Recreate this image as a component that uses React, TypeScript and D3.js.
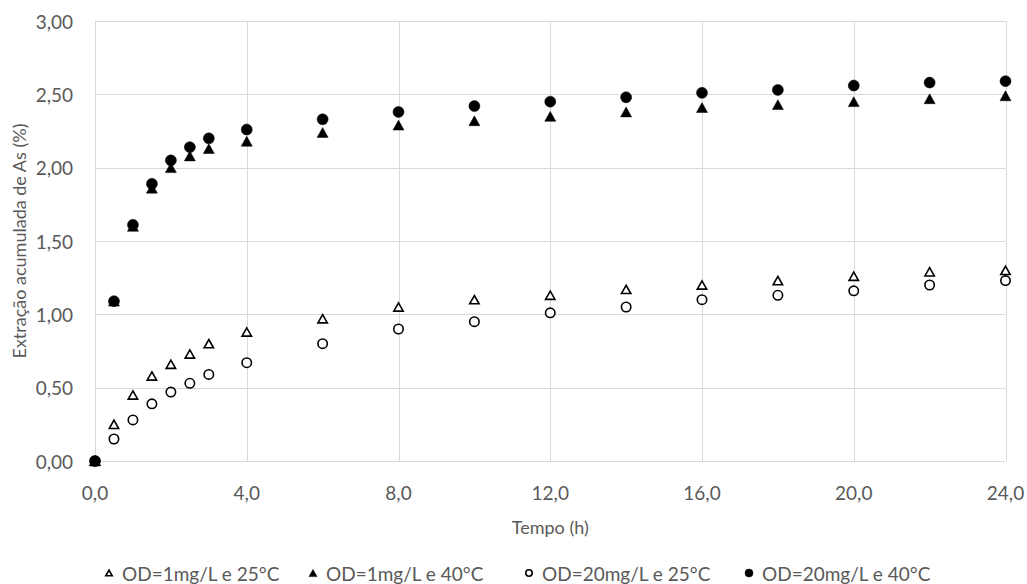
import React from "react";
import * as d3 from "d3";

const times = [0, 0.5, 1, 1.5, 2, 2.5, 3, 4, 6, 8, 10, 12, 14, 16, 18, 20, 22, 24];
const od1_25 = [0, 0.25, 0.45, 0.58, 0.66, 0.73, 0.8, 0.88, 0.97, 1.05, 1.1, 1.13, 1.17, 1.2, 1.23, 1.26, 1.29, 1.3];
const od1_40 = [0, 1.09, 1.6, 1.86, 2.0, 2.08, 2.13, 2.18, 2.24, 2.29, 2.32, 2.35, 2.38, 2.41, 2.43, 2.45, 2.47, 2.49];
const od20_25 = [0, 0.15, 0.28, 0.39, 0.47, 0.53, 0.59, 0.67, 0.8, 0.9, 0.95, 1.01, 1.05, 1.1, 1.13, 1.16, 1.2, 1.23];
const od20_40 = [0, 1.09, 1.61, 1.89, 2.05, 2.14, 2.2, 2.26, 2.33, 2.38, 2.42, 2.45, 2.48, 2.51, 2.53, 2.56, 2.58, 2.59];

const seriesNames = ["OD=1mg/L e 25°C", "OD=1mg/L e 40°C", "OD=20mg/L e 25°C", "OD=20mg/L e 40°C"];
const xTicks = [0, 4, 8, 12, 16, 20, 24];
const yTicks = [0, 0.5, 1, 1.5, 2, 2.5, 3];
const xTitle = "Tempo (h)";
const yTitle = "Extração acumulada de As (%)";

const FONT = "Lato, 'Open Sans', sans-serif";
const TXT = "#595959";
const GRID = "#d9d9d9";

type Kind = { shape: "tri" | "circle"; filled: boolean };
const kinds: Kind[] = [
  { shape: "tri", filled: false },
  { shape: "tri", filled: true },
  { shape: "circle", filled: false },
  { shape: "circle", filled: true },
];
const values = [od1_25, od1_40, od20_25, od20_40];

function Marker({ x, y, kind, size }: { x: number; y: number; kind: Kind; size: number }) {
  const fill = kind.filled ? "#000" : "#fff";
  const sw = kind.filled ? 0.5 : 1.6;
  if (kind.shape === "circle") {
    return <circle cx={x} cy={y} r={size / 2 - (kind.filled ? 0 : 0.8)} fill={fill} stroke="#000" strokeWidth={sw} />;
  }
  const h = size * 0.9;
  const w = size;
  const p = kind.filled ? 0 : 0.8;
  const pts = `${x},${y - h / 2 + p} ${x + w / 2 - p},${y + h / 2 - p} ${x - w / 2 + p},${y + h / 2 - p}`;
  return <polygon points={pts} fill={fill} stroke="#000" strokeWidth={sw} strokeLinejoin="miter" />;
}

export default function App() {
  const W = 1027;
  const H = 584;
  const x = d3.scaleLinear().domain([0, 24]).range([95, 1005.5]);
  const y = d3.scaleLinear().domain([0, 3]).range([461, 21]);
  const fx = (v: number) => d3.format(".1f")(v).replace(".", ",");
  const fy = (v: number) => d3.format(".2f")(v).replace(".", ",");

  const legendTextX = [122, 326, 542, 762];
  const legendY = 573;

  return (
    <svg width={W} height={H} style={{ display: "block", position: "absolute", left: 0, top: 0 }} fontFamily={FONT}>
      <rect width={W} height={H} fill="#fff" />
      {yTicks.map((t) => (
        <line key={"hy" + t} x1={x(0)} x2={x(24)} y1={Math.round(y(t)) + 0.5} y2={Math.round(y(t)) + 0.5} stroke={GRID} strokeWidth={1} />
      ))}
      {xTicks.map((t) => (
        <line key={"vx" + t} x1={Math.round(x(t)) + 0.5} x2={Math.round(x(t)) + 0.5} y1={y(3)} y2={y(0)} stroke={GRID} strokeWidth={1} />
      ))}
      {yTicks.map((t) => (
        <text key={"ty" + t} x={73} y={y(t)} textAnchor="end" dominantBaseline="central" fontSize={19} fill={TXT}>
          {fy(t)}
        </text>
      ))}
      {xTicks.map((t) => (
        <text key={"tx" + t} x={x(t)} y={492} textAnchor="middle" dominantBaseline="central" fontSize={19} fill={TXT}>
          {fx(t)}
        </text>
      ))}
      <text x={(x(0) + x(24)) / 2} y={527} textAnchor="middle" dominantBaseline="central" fontSize={18} fill={TXT}>
        {xTitle}
      </text>
      <text
        transform={`translate(19,${(y(0) + y(3)) / 2}) rotate(-90)`}
        textAnchor="middle"
        dominantBaseline="central"
        fontSize={18}
        fill={TXT}
      >
        {yTitle}
      </text>
      {values.map((vals, si) => (
        <g key={"s" + si}>
          {vals.map((v, i) => (
            <Marker key={i} x={x(times[i])} y={y(v)} kind={kinds[si]} size={11} />
          ))}
        </g>
      ))}
      {seriesNames.map((n, i) => (
        <g key={"lg" + i}>
          <Marker x={legendTextX[i] - 13} y={legendY} kind={kinds[i]} size={8} />
          <text x={legendTextX[i]} y={legendY} dominantBaseline="central" fontSize={19} fill={TXT}>
            {n}
          </text>
        </g>
      ))}
    </svg>
  );
}
